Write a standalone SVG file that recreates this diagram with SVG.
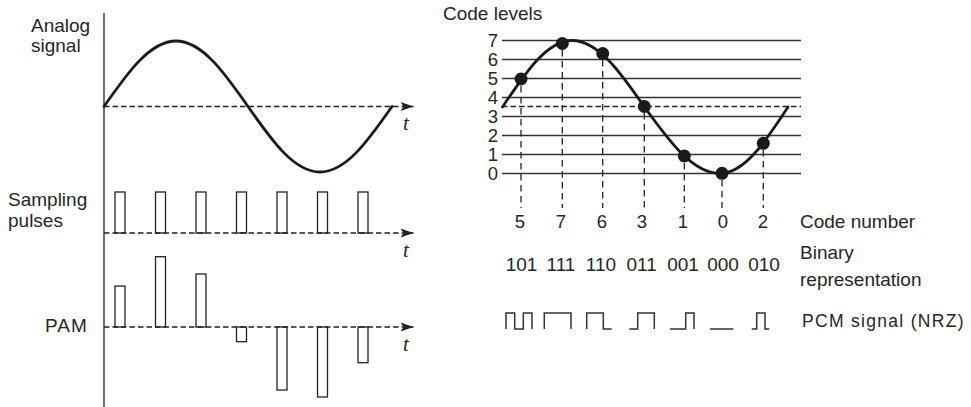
<svg xmlns="http://www.w3.org/2000/svg" width="971" height="407" viewBox="0 0 971 407">
<style>
  .lbl { font-family: "Liberation Sans", Arial, sans-serif; font-size: 19px; fill: #262626; }
  .pcmlbl { font-family: "Liberation Sans", Arial, sans-serif; font-size: 17.5px; letter-spacing: 1.3px; fill: #262626; }
  .pam { letter-spacing: 1px; }
  .num { font-family: "Liberation Sans", Arial, sans-serif; font-size: 18.5px; fill: #262626; }
  .mid { text-anchor: middle; }
  .end { text-anchor: end; }
  .tl { font-family: "Liberation Serif", "Times New Roman", serif; font-style: italic; font-size: 21px; fill: #222; }
  .axis { stroke: #222; stroke-width: 1.3; fill: none; }
  .dash { stroke: #222; stroke-width: 1.3; fill: none; stroke-dasharray: 5.5 3; }
  .vdash { stroke: #222; stroke-width: 1.3; fill: none; stroke-dasharray: 6.5 4.5; }
  .curve { stroke: #1a1a1a; stroke-width: 2.8; fill: none; stroke-linecap: round; }
  .grid { stroke: #333; stroke-width: 1.5; fill: none; }
  .pulse { stroke: #222; stroke-width: 1.3; fill: none; }
  .pcm { stroke: #333; stroke-width: 1.5; fill: none; }
  .dot { fill: #1a1a1a; }
</style>
<defs>
  <marker id="arr" markerUnits="userSpaceOnUse" markerWidth="14" markerHeight="10" refX="13" refY="5" orient="auto" overflow="visible">
    <path d="M0,0.5 L13,5 L0,9.5 L3,5 Z" fill="#222" stroke="none"/>
  </marker>
</defs>

<g id="left-axis">
  <line class="axis" x1="104" y1="13" x2="104" y2="407"/>
</g>

<g id="analog-signal">
  <text class="lbl" x="31" y="32">Analog</text>
  <text class="lbl" x="31" y="52">signal</text>
  <path class="curve" d="M104,106.5 C127.5,72.9 149.9,41 176,41 C202.1,41 224.5,72.9 248,106.5 C271.5,140.1 293.9,172 320,172 C346.1,172 368.5,140.1 392,106.5"/>
  <text class="tl" x="403" y="130">t</text>
</g>

<g id="sampling-pulses">
  <text class="lbl" x="8" y="206">Sampling</text>
  <text class="lbl" x="8" y="227">pulses</text>
  <rect class="pulse" x="115" y="192" width="10" height="41"/>
  <rect class="pulse" x="155.5" y="192" width="10" height="41"/>
  <rect class="pulse" x="196" y="192" width="10" height="41"/>
  <rect class="pulse" x="236.5" y="192" width="10" height="41"/>
  <rect class="pulse" x="277" y="192" width="10" height="41"/>
  <rect class="pulse" x="317.5" y="192" width="10" height="41"/>
  <rect class="pulse" x="358" y="192" width="10" height="41"/>
  <text class="tl" x="403" y="257">t</text>
</g>

<g id="pam">
  <text class="lbl pam" x="45" y="332">PAM</text>
  <rect class="pulse" x="115" y="286" width="10" height="41"/>
  <rect class="pulse" x="155.5" y="256.7" width="10" height="70.3"/>
  <rect class="pulse" x="196" y="274" width="10" height="53"/>
  <rect class="pulse" x="236.5" y="327" width="10" height="14.7"/>
  <rect class="pulse" x="277" y="327" width="10" height="63"/>
  <rect class="pulse" x="317.5" y="327" width="10" height="70"/>
  <rect class="pulse" x="358" y="327" width="10" height="35.7"/>
  <text class="tl" x="403" y="351">t</text>
</g>

<g id="code-levels">
  <text class="lbl" x="443" y="20">Code levels</text>
  <g>
    <line class="grid" x1="502" y1="40.5" x2="801" y2="40.5"/>
    <line class="grid" x1="502" y1="59.5" x2="801" y2="59.5"/>
    <line class="grid" x1="502" y1="78.5" x2="801" y2="78.5"/>
    <line class="grid" x1="502" y1="97.5" x2="801" y2="97.5"/>
    <line class="grid" x1="502" y1="116.5" x2="801" y2="116.5"/>
    <line class="grid" x1="502" y1="135.5" x2="801" y2="135.5"/>
    <line class="grid" x1="502" y1="154.5" x2="801" y2="154.5"/>
    <line class="grid" x1="502" y1="173.5" x2="801" y2="173.5"/>
  </g>
  <g>
    <text class="num end" x="498" y="47">7</text>
    <text class="num end" x="498" y="66">6</text>
    <text class="num end" x="498" y="85">5</text>
    <text class="num end" x="498" y="104">4</text>
    <text class="num end" x="498" y="123">3</text>
    <text class="num end" x="498" y="142">2</text>
    <text class="num end" x="498" y="161">1</text>
    <text class="num end" x="498" y="180">0</text>
  </g>
  <path class="curve" d="M502.5,107 C525.2,72.9 546.9,40.5 572,40.5 C598.2,40.5 620.9,72.9 644.5,107 C669.1,141.1 692.7,173.5 720,173.5 C744.6,173.5 765.8,141.1 788,107"/>
  <g>
    <circle class="dot" cx="521" cy="79" r="6.5"/>
    <circle class="dot" cx="562.3" cy="43.5" r="6.5"/>
    <circle class="dot" cx="602.7" cy="53.5" r="6.5"/>
    <circle class="dot" cx="644.3" cy="106.5" r="6.5"/>
    <circle class="dot" cx="684.3" cy="156" r="6.5"/>
    <circle class="dot" cx="722" cy="173.3" r="6.5"/>
    <circle class="dot" cx="763.3" cy="143.3" r="6.5"/>
  </g>
</g>

<g id="code-numbers">
  <text class="num mid" x="520" y="228">5</text>
  <text class="num mid" x="561" y="228">7</text>
  <text class="num mid" x="602" y="228">6</text>
  <text class="num mid" x="642" y="228">3</text>
  <text class="num mid" x="683" y="228">1</text>
  <text class="num mid" x="723" y="228">0</text>
  <text class="num mid" x="763" y="228">2</text>
  <text class="lbl" x="800" y="228">Code number</text>
</g>

<g id="binary">
  <text class="lbl mid" x="521.5" y="271">101</text>
  <text class="lbl mid" x="561" y="271">111</text>
  <text class="lbl mid" x="601" y="271">110</text>
  <text class="lbl mid" x="641.7" y="271">011</text>
  <text class="lbl mid" x="683" y="271">001</text>
  <text class="lbl mid" x="723" y="271">000</text>
  <text class="lbl mid" x="764" y="271">010</text>
  <text class="lbl" x="800" y="259">Binary</text>
  <text class="lbl" x="800" y="286">representation</text>
</g>

<g id="pcm-signal">
  <path class="pcm" d="M506,329 V313 H514.7 V329 H523.3 V313 H532 V329"/>
  <path class="pcm" d="M544.3,329 V313 H571 V329"/>
  <path class="pcm" d="M586.7,329 V313 H603.3 V329 H611.7"/>
  <path class="pcm" d="M629.3,329 H637.7 V313 H654.3 V329"/>
  <path class="pcm" d="M670,329 H685.7 V313 H694 V329"/>
  <path class="pcm" d="M710,329 H733.3"/>
  <path class="pcm" d="M751.7,329 H756.7 V313 H765 V329 H769.3"/>
  <text class="pcmlbl" x="802" y="327">PCM signal (NRZ)</text>
</g>

<g id="connectors">
  <line class="dash" x1="104" y1="106.5" x2="413.5" y2="106.5" marker-end="url(#arr)"/>
  <line class="dash" x1="104" y1="233" x2="413.5" y2="233" marker-end="url(#arr)"/>
  <line class="dash" x1="104" y1="327" x2="413.5" y2="327" marker-end="url(#arr)"/>
  <line class="dash" x1="502" y1="106.5" x2="801" y2="106.5"/>
  <line class="vdash" x1="521" y1="86" x2="521" y2="208"/>
  <line class="vdash" x1="562.3" y1="50" x2="562.3" y2="208"/>
  <line class="vdash" x1="602.7" y1="60" x2="602.7" y2="208"/>
  <line class="vdash" x1="644.3" y1="113" x2="644.3" y2="208"/>
  <line class="vdash" x1="684.3" y1="163" x2="684.3" y2="208"/>
  <line class="vdash" x1="722" y1="180" x2="722" y2="208"/>
  <line class="vdash" x1="763.3" y1="150" x2="763.3" y2="208"/>
</g>
</svg>
